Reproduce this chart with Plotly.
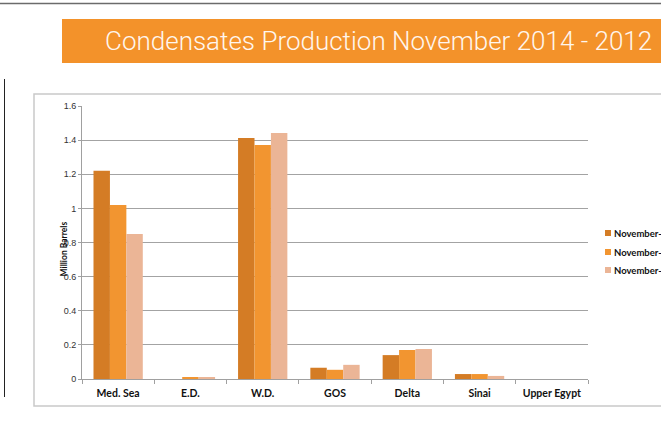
import plotly.graph_objects as go

# Condensates production by region, million barrels
regions = ["Med. Sea", "E.D.", "W.D.", "GOS", "Delta", "Sinai", "Upper Egypt"]
series_names = ["November-2014", "November-2013", "November-2012"]
nov_2014 = [1.22, 0.0, 1.413, 0.066, 0.14, 0.029, 0.0]
nov_2013 = [1.02, 0.007, 1.372, 0.054, 0.17, 0.029, 0.0]
nov_2012 = [0.85, 0.006, 1.442, 0.083, 0.176, 0.018, 0.0]
series_values = [nov_2014, nov_2013, nov_2012]
series_colors = ["#D47C25", "#F29530", "#EBB596"]
title_text = "Condensates Production November 2014 - 2012"
y_title = "Million Barrels"

W, H = 661, 439
L, R, T, B = 82, 73, 106, 60
PW, PH = W - L - R, H - T - B


def px_x(px):
    return (px - L) / PW


def px_y(py):
    return (H - B - py) / PH


fig = go.Figure()
for name, vals, col in zip(series_names, series_values, series_colors):
    fig.add_trace(go.Bar(x=regions, y=vals, name=name, marker_color=col,
                         marker_line_width=0, showlegend=False))

shapes = [
    # top rule
    dict(type="line", xref="paper", yref="paper", x0=px_x(0), x1=px_x(W + 5),
         y0=px_y(3.5), y1=px_y(3.5), line=dict(color="#6b6b6b", width=1.5)),
    # orange title banner
    dict(type="rect", xref="paper", yref="paper", x0=px_x(62), x1=px_x(W + 5),
         y0=px_y(19), y1=px_y(63), fillcolor="#F3922A", line_width=0, layer="below"),
    # left vertical rule
    dict(type="line", xref="paper", yref="paper", x0=px_x(4.5), x1=px_x(4.5),
         y0=px_y(79), y1=px_y(397), line=dict(color="#222222", width=1)),
    # chart frame
    dict(type="rect", xref="paper", yref="paper", x0=px_x(34), x1=px_x(W + 10),
         y0=px_y(94), y1=px_y(406), line=dict(color="#c9c9c9", width=1.5),
         layer="below"),
]

annotations = [
    dict(text=title_text, xref="paper", yref="paper", x=px_x(654), y=px_y(41),
         xanchor="right", yanchor="middle", showarrow=False,
         font=dict(family="Roboto", size=26, color="#FFF6EE", weight=300)),
    dict(text=y_title, xref="paper", yref="paper", x=px_x(63.5), y=px_y(249),
         xanchor="center", yanchor="middle", textangle=-90, showarrow=False,
         font=dict(family="Lato", size=8.5, color="#111111", weight="bold")),
]

# hand-built legend: small square swatch + bold label
legend_rows = [233, 252, 270]
for name, col, ry in zip(series_names, series_colors, legend_rows):
    shapes.append(dict(type="rect", xref="paper", yref="paper",
                       x0=px_x(605), x1=px_x(611), y0=px_y(ry - 3), y1=px_y(ry + 3),
                       fillcolor=col, line_width=0))
    annotations.append(dict(text=name, xref="paper", yref="paper",
                            x=px_x(612), y=px_y(ry), xanchor="left", yanchor="middle",
                            showarrow=False,
                            font=dict(family="Lato", size=9.5, color="#111111",
                                      weight="bold")))

fig.update_layout(
    width=W, height=H,
    margin=dict(l=L, r=R, t=T, b=B, autoexpand=False),
    paper_bgcolor="white", plot_bgcolor="white",
    barmode="group", bargap=0.318, bargroupgap=0,
    shapes=shapes, annotations=annotations,
    xaxis=dict(type="category", showgrid=False, showline=True,
               linecolor="#a0a0a0", linewidth=1, ticks="outside",
               tickson="boundaries", ticklen=4, tickcolor="#a0a0a0",
               ticklabelstandoff=4,
               tickfont=dict(family="Lato", size=10.5, color="#111111",
                             weight="bold")),
    yaxis=dict(range=[0, 1.6], dtick=0.2, showgrid=True, gridcolor="#a3a3a3",
               gridwidth=1, showline=True, linecolor="#a0a0a0", linewidth=1,
               ticks="outside", ticklen=3, tickcolor="#a0a0a0", zeroline=False,
               tickformat="~g",
               tickfont=dict(family="Liberation Sans", size=9, color="#333333")),
)

fig.write_html("out.html")
